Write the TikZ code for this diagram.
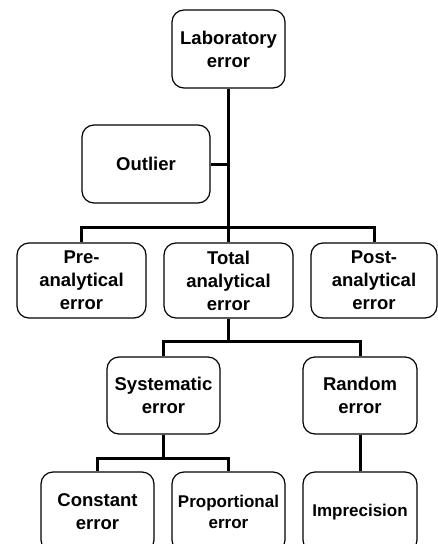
\documentclass[tikz,border=0pt]{standalone}
\usepackage{fontspec}
\setmainfont{Liberation Sans}
\begin{document}
\begin{tikzpicture}
    [
        x=1pt, y=-1pt,
        box/.style={draw, rounded corners=12pt, line width=1.2pt, align=center, inner sep=0pt,
            font=\fontsize{18.5}{23}\selectfont\bfseries, minimum width=113pt, minimum height=77pt},
        small/.style={font=\fontsize{17}{20.5}\selectfont\bfseries},
        link/.style={line width=3pt}
    ]
    \useasboundingbox (0,0) rectangle (438,544);
    \clip (0,0) rectangle (438,544);

    % boxes
    \node[box, minimum height=78pt] (lab) at (228.5,49) {Laboratory\\error};
    \node[box, minimum width=128pt, minimum height=78pt] (outlier) at (146,164) {Outlier};
    \node[box, minimum width=129pt, minimum height=75pt] (pre) at (81.5,280.5) {Pre-\\analytical\\error};
    \node[box, minimum width=129pt, minimum height=75pt] (total) at (228.5,280.5) {Total\\analytical\\error};
    \node[box, minimum width=126pt, minimum height=75pt] (post) at (374,280.5) {Post-\\analytical\\error};
    \node[box] (syst) at (163.5,395.5) {Systematic\\error};
    \node[box, minimum width=114pt] (random) at (360,395.5) {Random\\error};
    \node[box, minimum height=80pt] (const) at (97.5,512) {Constant\\error};
    \node[box, small, minimum height=80pt] (prop) at (228.5,512) {Proportional\\error};
    \node[box, small, minimum width=114pt, minimum height=80pt] (impr) at (360,512) {Imprecision};

    % connectors
    \coordinate (bar1) at (228.5,227);
    \coordinate (bar2) at (228.5,341);
    \coordinate (bar3) at (163.5,458);
    \draw[link] (lab.south) -- (bar1);
    \draw[link] (outlier.east) -- (outlier.east -| lab.south);
    \draw[link] (pre.north) |- (bar1) -| (post.north);
    \draw[link] (bar1) -- (total.north);
    \draw[link] (total.south) -- (bar2);
    \draw[link] (syst.north) |- (bar2) -| (random.north);
    \draw[link] (syst.south) -- (bar3);
    \draw[link] (const.north) |- (bar3) -| (prop.north);
    \draw[link] (random.south) -- (impr.north);
\end{tikzpicture}
\end{document}
